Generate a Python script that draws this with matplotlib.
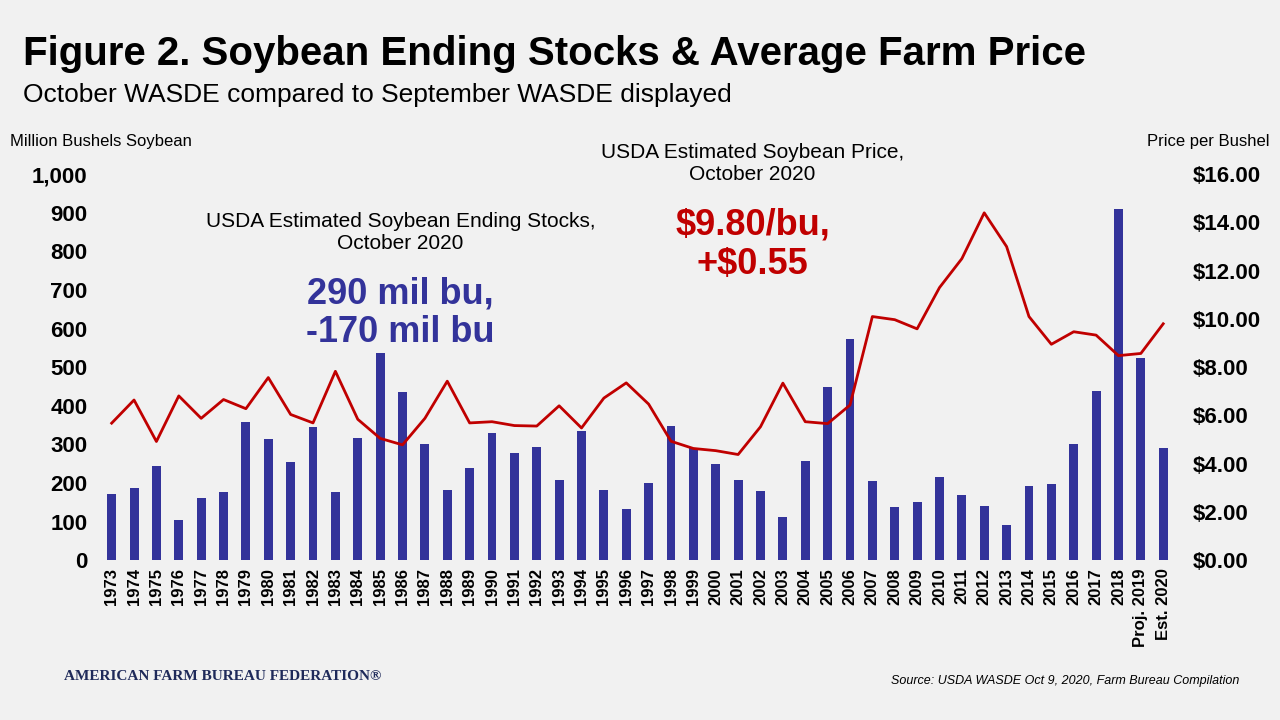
import numpy as np
import matplotlib.pyplot as plt

plt.rcParams['font.family'] = ['Liberation Sans', 'DejaVu Sans']

years = [str(y) for y in range(1973, 2019)] + ["Proj. 2019", "Est. 2020"]
stocks = [172, 188, 245, 103, 161, 176, 359, 313, 254, 345, 176, 316, 536, 436,
          302, 182, 239, 329, 278, 292, 209, 335, 183, 132, 200, 348, 290, 248,
          208, 178, 112, 256, 449, 574, 205, 138, 151, 215, 169, 141, 92, 191,
          197, 302, 438, 909, 525, 290]
price = [5.68, 6.64, 4.92, 6.81, 5.88, 6.66, 6.28, 7.57, 6.04, 5.69, 7.83, 5.84,
         5.05, 4.78, 5.88, 7.42, 5.69, 5.74, 5.58, 5.56, 6.40, 5.48, 6.72, 7.35,
         6.47, 4.93, 4.63, 4.54, 4.38, 5.53, 7.34, 5.74, 5.66, 6.43, 10.10, 9.97,
         9.59, 11.30, 12.50, 14.40, 13.00, 10.10, 8.95, 9.47, 9.33, 8.48, 8.57, 9.80]

bg = "#f1f1f1"
blue = "#33339a"
red = "#c00000"

fig = plt.figure(figsize=(12.8, 7.2), dpi=100, facecolor=bg)
ax = fig.add_axes([0.075, 0.222, 0.846, 0.536], facecolor=bg)
x = np.arange(len(years))
ax.bar(x, stocks, width=0.4, color=blue)
ax.set_ylim(0, 1000)
ax.set_xlim(-0.7, len(years) - 0.3)
ax.set_yticks(range(0, 1001, 100))
ax.set_yticklabels([f"{v:,}" for v in range(0, 1001, 100)], fontsize=16, fontweight="bold")
ax.set_xticks(x)
ax.set_xticklabels(years, rotation=90, fontsize=12, fontweight="bold")
for s in ax.spines.values():
    s.set_visible(False)
ax.tick_params(length=0, pad=6)

ax2 = ax.twinx()
ax2.plot(x, price, color=red, lw=2)
ax2.set_ylim(0, 16)
ax2.set_yticks(range(0, 17, 2))
ax2.set_yticklabels([f"${v:.2f}" for v in range(0, 17, 2)], fontsize=16, fontweight="bold")
for s in ax2.spines.values():
    s.set_visible(False)
ax2.tick_params(length=0, pad=10)

fig.text(0.018, 0.91, "Figure 2. Soybean Ending Stocks & Average Farm Price",
         fontsize=29, fontweight="bold")
fig.text(0.018, 0.858, "October WASDE compared to September WASDE displayed", fontsize=19)
fig.text(0.008, 0.797, "Million Bushels Soybean", fontsize=12)
fig.text(0.992, 0.797, "Price per Bushel", fontsize=12, ha="right")

fig.text(0.313, 0.677, "USDA Estimated Soybean Ending Stocks,\nOctober 2020",
         fontsize=15, ha="center", va="center", linespacing=1.2)
fig.text(0.313, 0.565, "290 mil bu,\n-170 mil bu", fontsize=26, fontweight="bold",
         color=blue, ha="center", va="center", linespacing=1.15)
fig.text(0.588, 0.773, "USDA Estimated Soybean Price,\nOctober 2020",
         fontsize=15, ha="center", va="center", linespacing=1.2)
fig.text(0.588, 0.66, "$9.80/bu,\n+$0.55", fontsize=26, fontweight="bold",
         color=red, ha="center", va="center", linespacing=1.15)

fig.text(0.05, 0.055, "AMERICAN FARM BUREAU FEDERATION®", fontsize=11,
         fontweight="bold", family="Liberation Serif", color="#1f2a5a")
fig.text(0.968, 0.05, "Source: USDA WASDE Oct 9, 2020, Farm Bureau Compilation",
         fontsize=9, style="italic", ha="right")

fig.savefig("out.png", dpi=100, facecolor=bg)
